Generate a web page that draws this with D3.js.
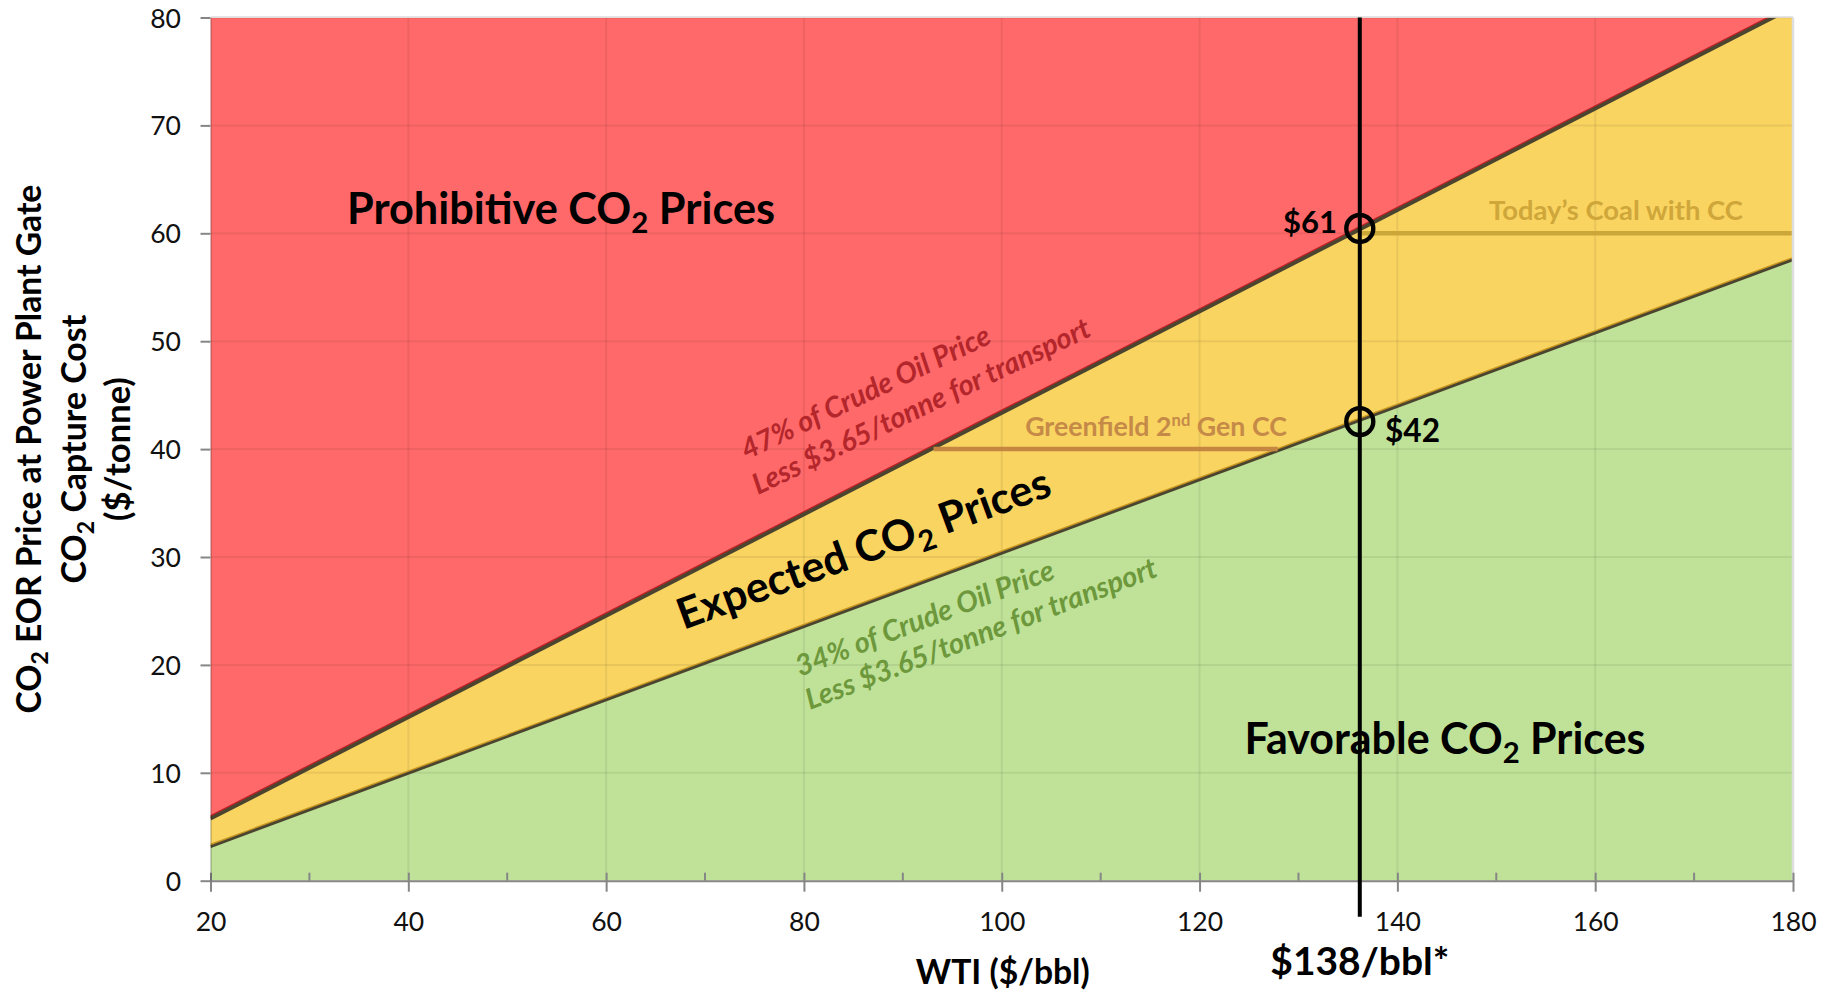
<!DOCTYPE html>
<html><head><meta charset="utf-8">
<script src="https://cdn.jsdelivr.net/npm/d3@7"></script>
<style>html,body{margin:0;padding:0;background:#fff;overflow:hidden}</style>
</head><body>
<svg id="chart" width="1834" height="991"></svg>
<script>
// ---------- data ----------
const wti = [20, 180];                      // WTI $/bbl
const upperLine = [5.75, 80.95];            // 47% of crude oil price less $3.65/tonne
const lowerLine = [3.15, 57.55];            // 34% of crude oil price less $3.65/tonne
const xTicks = [20, 40, 60, 80, 100, 120, 140, 160, 180];
const xMinorTicks = [30, 50, 70, 90, 110, 130, 150, 170];
const yTicks = [0, 10, 20, 30, 40, 50, 60, 70, 80];
const oilMarker = [136.2];                  // vertical line labelled $138/bbl*
const markerValues = [60.45, 42.55];        // circled intersections
const markerLabels = ["$61", "$42"];
const coalX = [136.2, 180], coalY = [60, 60];        // Today's Coal with CC
const greenX = [93.1, 127.9], greenY = [40, 40];     // Greenfield 2nd Gen CC

// ---------- layout ----------
const W = 1834, H = 991;
const M = {left: 210.5, right: 41, top: 17.5, bottom: 110.3};
const iw = W - M.left - M.right, ih = H - M.top - M.bottom;
const FONT = "Lato, 'Open Sans', sans-serif";

const svg = d3.select("#chart");
const g = svg.append("g").attr("transform", `translate(${M.left},${M.top})`);
const x = d3.scaleLinear().domain([20, 180]).range([0, iw]);
const y = d3.scaleLinear().domain([0, 80]).range([ih, 0]);

svg.append("defs").append("clipPath").attr("id", "plot")
  .append("rect").attr("width", iw).attr("height", ih);

const pts = wti.map((w, i) => ({w, up: upperLine[i], lo: lowerLine[i]}));
const plot = g.append("g").attr("clip-path", "url(#plot)");

// areas
plot.append("path").datum(pts).attr("fill", "#ff6969")
  .attr("d", d3.area().x(d => x(d.w)).y0(d => y(d.up)).y1(() => y(80)));
plot.append("path").datum(pts).attr("fill", "#f9d461")
  .attr("d", d3.area().x(d => x(d.w)).y0(d => y(d.lo)).y1(d => y(d.up)));
plot.append("path").datum(pts).attr("fill", "#bfe298")
  .attr("d", d3.area().x(d => x(d.w)).y0(() => y(0)).y1(d => y(d.lo)));

// grid
plot.append("g").selectAll("line").data(yTicks.filter(v => v > 0)).join("line")
  .attr("x1", 0).attr("x2", iw).attr("y1", d => y(d)).attr("y2", d => y(d))
  .attr("stroke", "rgba(0,0,0,0.065)").attr("stroke-width", 2);
plot.append("g").selectAll("line").data(xTicks.filter(v => v > 20 && v < 180)).join("line")
  .attr("x1", d => x(d)).attr("x2", d => x(d)).attr("y1", 0).attr("y2", ih)
  .attr("stroke", "rgba(0,0,0,0.065)").attr("stroke-width", 2);

// borders top/right
g.append("line").attr("x1", 0).attr("x2", iw).attr("y1", -0.5).attr("y2", -0.5)
  .attr("stroke", "#dcdcdc").attr("stroke-width", 1.5);
g.append("line").attr("x1", iw).attr("x2", iw).attr("y1", 0).attr("y2", ih)
  .attr("stroke", "#dedede").attr("stroke-width", 2.5);

// boundary lines
const line = d3.line().x(d => x(d.w));
plot.append("path").datum(pts).attr("fill", "none").attr("stroke", "#c01f24").attr("stroke-width", 1.6)
  .attr("transform", "translate(0,-2.6)").attr("d", line.y(d => y(d.up)));
plot.append("path").datum(pts).attr("fill", "none").attr("stroke", "#4b4530").attr("stroke-width", 3.8)
  .attr("d", line.y(d => y(d.up)));
plot.append("path").datum(pts).attr("fill", "none").attr("stroke", "#c8961e").attr("stroke-width", 1.8)
  .attr("transform", "translate(0,-2)").attr("d", line.y(d => y(d.lo)));
plot.append("path").datum(pts).attr("fill", "none").attr("stroke", "#4b4530").attr("stroke-width", 2.8)
  .attr("d", line.y(d => y(d.lo)));

// capture cost lines
const hl = d3.line().x(d => x(d[0])).y(d => y(d[1]));
plot.append("path").datum(coalX.map((v, i) => [v, coalY[i]])).attr("fill", "none")
  .attr("stroke", "#cba638").attr("stroke-width", 4.5).attr("d", hl);
plot.append("path").datum(greenX.map((v, i) => [v, greenY[i]])).attr("fill", "none")
  .attr("stroke", "#c58641").attr("stroke-width", 4.5).attr("d", hl);

// axes
const xAxis = g.append("g").attr("transform", `translate(0,${ih})`)
  .call(d3.axisBottom(x).tickValues(xTicks).tickSizeInner(11).tickSizeOuter(0).tickFormat(d3.format("d")));
xAxis.select(".domain").attr("stroke", "#868686").attr("stroke-width", 2);
xAxis.selectAll(".tick line").attr("stroke", "#868686").attr("stroke-width", 2).attr("y1", -8);
xAxis.selectAll(".tick text").attr("y", 50).attr("dy", null)
  .attr("font-family", FONT).attr("font-size", 26.5).attr("fill", "#111");
xAxis.append("g").selectAll("line").data(xMinorTicks).join("line")
  .attr("x1", d => x(d)).attr("x2", d => x(d)).attr("y1", -8).attr("y2", 0)
  .attr("stroke", "#868686").attr("stroke-width", 2);

const yAxis = g.append("g")
  .call(d3.axisLeft(y).tickValues(yTicks).tickSizeInner(10).tickSizeOuter(0));
yAxis.select(".domain").attr("stroke", "rgba(0,0,0,0.16)").attr("stroke-width", 2);
yAxis.selectAll(".tick line").attr("stroke", "#868686").attr("stroke-width", 2);
yAxis.selectAll(".tick text").attr("x", -29.5).attr("dy", "0.36em")
  .attr("font-family", FONT).attr("font-size", 26.5).attr("fill", "#111");

// ---------- text helpers ----------
function rich(sel, segs) {
  let shift = 0;
  segs.forEach(s => {
    const [t, type] = Array.isArray(s) ? s : [s, null];
    const ts = sel.append("tspan").text(t);
    if (type === "sub") {
      ts.attr("font-size", "0.68em").attr("dy", "0.32em"); shift = 0.32 * 0.68;
    } else if (type === "sup") {
      ts.attr("font-size", "0.62em").attr("dy", "-0.62em"); shift = -0.62 * 0.62;
    } else if (shift !== 0) {
      ts.attr("dy", (-shift).toFixed(4) + "em"); shift = 0;
    }
  });
  return sel;
}
function fit(sel, target) {
  const fs = parseFloat(sel.attr("font-size"));
  const w = sel.node().getBBox().width;
  const nfs = fs * target / w;
  sel.attr("font-size", nfs.toFixed(2));
  return nfs;
}
function label(parent, segs, opts) {
  const t = parent.append("text")
    .attr("font-family", FONT).attr("font-size", 30)
    .attr("font-weight", opts.weight || 700)
    .attr("font-style", opts.italic ? "italic" : "normal")
    .attr("fill", opts.fill || "#000")
    .attr("text-anchor", opts.anchor || "middle");
  rich(t, segs);
  if (opts.width) fit(t, opts.width);
  if (opts.size) t.attr("font-size", opts.size);
  t.attr("transform", `translate(${opts.x},${opts.y})` + (opts.rot ? ` rotate(${opts.rot})` : ""));
  return t;
}

const ann = g.append("g");
label(ann, ["Prohibitive CO", ["2", "sub"], " Prices"], {x: x(55.44), y: y(60.86), width: 428});
label(ann, ["Favorable CO", ["2", "sub"], " Prices"], {x: x(144.82), y: y(11.74), width: 401});
label(ann, ["Expected CO", ["2", "sub"], " Prices"], {x: x(86.53), y: y(29.49), width: 394, rot: -20});

const red2 = label(ann, ["Less $3.65/tonne for transport"],
  {x: x(75.36), y: y(35.75), width: 371, rot: -25.5, anchor: "start", italic: true, weight: 700, fill: "#b3262b"});
label(ann, ["47% of Crude Oil Price"],
  {x: x(74.23), y: y(39.0), size: red2.attr("font-size"), rot: -25.5, anchor: "start", italic: true, weight: 700, fill: "#b3262b"});
const gr2 = label(ann, ["Less $3.65/tonne for transport"],
  {x: x(80.62), y: y(15.82), width: 374, rot: -21, anchor: "start", italic: true, weight: 700, fill: "#6d983c"});
label(ann, ["34% of Crude Oil Price"],
  {x: x(79.61), y: y(18.91), size: gr2.attr("font-size"), rot: -21, anchor: "start", italic: true, weight: 700, fill: "#6d983c"});

label(ann, ["Today\u2019s Coal with CC"], {x: x(162.1), y: y(61.25), width: 254, fill: "#cfa63a"});
label(ann, ["Greenfield 2", ["nd", "sup"], " Gen CC"], {x: x(115.6), y: y(41.2), width: 262, fill: "#c68a48"});

// y axis title (three lines)
const yTitle = [
  {segs: ["CO", ["2", "sub"], " EOR Price at Power Plant Gate"], cx: 29, w: 529},
  {segs: ["CO", ["2", "sub"], " Capture Cost"], cx: 74, w: 269},
  {segs: ["($/tonne)"], cx: 118, w: 144}
];
yTitle.forEach(l => {
  const t = svg.append("text").attr("font-family", FONT).attr("font-size", 30)
    .attr("font-weight", 700).attr("text-anchor", "middle").attr("fill", "#000");
  rich(t, l.segs);
  const fs = fit(t, l.w);
  t.attr("transform", `translate(${l.cx + 0.36 * fs},${M.top + y(40)}) rotate(-90)`);
});

// x axis title
label(svg, ["WTI ($/bbl)"], {x: M.left + x(100.1), y: 984, width: 174});

// vertical oil price marker
g.append("g").selectAll("line").data(oilMarker).join("line")
  .attr("x1", d => x(d)).attr("x2", d => x(d)).attr("y1", y(80)).attr("y2", ih + 36)
  .attr("stroke", "#000").attr("stroke-width", 4);
label(svg, ["$138/bbl*"], {x: M.left + x(oilMarker[0]), y: 975, width: 179});

// circles and value labels
g.append("g").selectAll("circle").data(markerValues).join("circle")
  .attr("cx", x(oilMarker[0])).attr("cy", d => y(d)).attr("r", 13.5)
  .attr("fill", "none").attr("stroke", "#000").attr("stroke-width", 4.4);
label(ann, [markerLabels[0]], {x: x(133.9), y: y(60.03), width: 54, anchor: "end"});
label(ann, [markerLabels[1]], {x: x(138.75), y: y(40.69), width: 55, anchor: "start"});
</script>
</body></html>
